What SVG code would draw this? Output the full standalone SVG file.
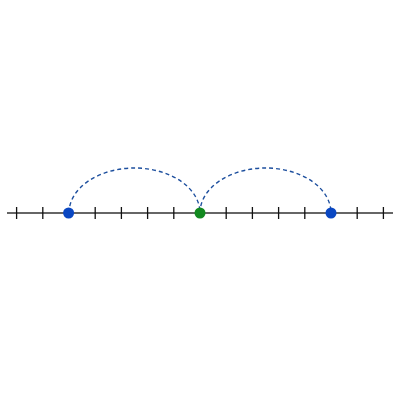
<svg xmlns="http://www.w3.org/2000/svg" width="400" height="400" viewBox="0 0 400 400">
<style>
.axis{stroke:#333;stroke-width:1.6;fill:none}
.tick{stroke:#111;stroke-width:1.3}
.arc{stroke:#1d4f9e;stroke-width:1.4;fill:none;stroke-dasharray:4 3}
</style>
<rect width="400" height="400" fill="#fff"/>
<g id="axis">
<line class="axis" x1="7" y1="213" x2="393" y2="213"/>
<g class="tick">
<line x1="16.6" y1="207" x2="16.6" y2="219"/>
<line x1="42.8" y1="207" x2="42.8" y2="219"/>
<line x1="95.2" y1="207" x2="95.2" y2="219"/>
<line x1="121.4" y1="207" x2="121.4" y2="219"/>
<line x1="147.6" y1="207" x2="147.6" y2="219"/>
<line x1="173.8" y1="207" x2="173.8" y2="219"/>
<line x1="226.2" y1="207" x2="226.2" y2="219"/>
<line x1="252.4" y1="207" x2="252.4" y2="219"/>
<line x1="278.6" y1="207" x2="278.6" y2="219"/>
<line x1="304.8" y1="207" x2="304.8" y2="219"/>
<line x1="357.2" y1="207" x2="357.2" y2="219"/>
<line x1="383.4" y1="207" x2="383.4" y2="219"/>
</g>
</g>
<g id="connectors">
<path class="arc" d="M69 213 A65.5 45 0 0 1 200 213"/>
<path class="arc" d="M200 213 A65.5 45 0 0 1 331 213"/>
</g>
<g id="point-a"><circle cx="68.6" cy="213" r="5.5" fill="#0a47c2"/></g>
<g id="point-b"><circle cx="200" cy="213" r="5.5" fill="#12891f"/></g>
<g id="point-c"><circle cx="331" cy="213" r="5.5" fill="#0a47c2"/></g>
</svg>
